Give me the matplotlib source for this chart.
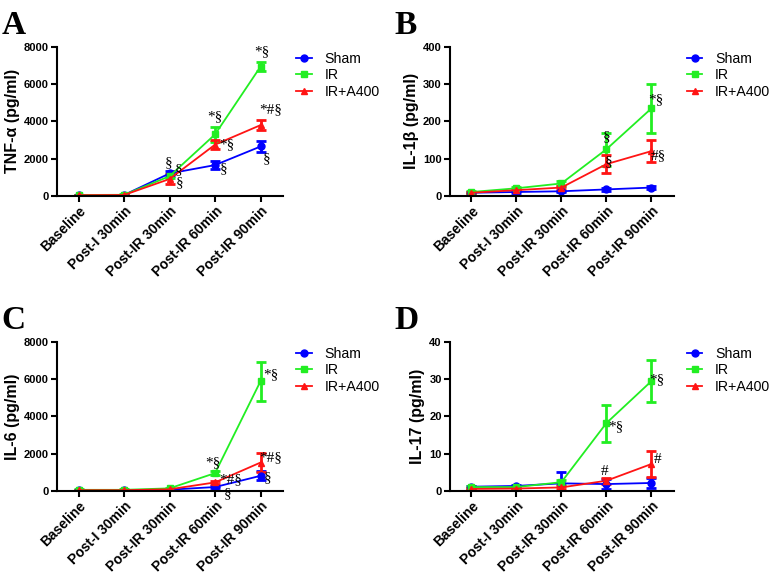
import numpy as np
import matplotlib.pyplot as plt
from matplotlib.lines import Line2D

plt.rcParams['font.family'] = ['Liberation Sans', 'DejaVu Sans']

timepoints = ['Baseline', 'Post-I 30min', 'Post-IR 30min', 'Post-IR 60min', 'Post-IR 90min']
groups = ['Sham', 'IR', 'IR+A400']
colors = {'Sham': '#0000ff', 'IR': '#22ee22', 'IR+A400': '#ff1414'}
markers = {'Sham': 'o', 'IR': 's', 'IR+A400': '^'}

# TNF-alpha
tnf_mean = {'Sham': [30, 40, 1200, 1650, 2650],
            'IR': [40, 50, 1050, 3300, 6950],
            'IR+A400': [30, 40, 900, 2750, 3800]}
tnf_err = {'Sham': [20, 20, 120, 200, 300],
           'IR': [20, 20, 120, 400, 250],
           'IR+A400': [20, 20, 250, 250, 250]}
tnf_marks = [(1.97, 1770, '§'), (2.19, 1400, '§'), (2.21, 700, '§'),
             (3.0, 4240, '*§'), (3.27, 2740, '*§'), (3.18, 1450, '§'),
             (4.02, 7730, '*§'), (4.22, 4620, '*#§'), (4.13, 1990, '§')]

# IL-1beta
il1_mean = {'Sham': [8, 10, 12, 17, 22],
            'IR': [10, 20, 33, 125, 235],
            'IR+A400': [8, 15, 22, 85, 120]}
il1_err = {'Sham': [2, 2, 2, 3, 4],
           'IR': [3, 4, 6, 45, 65],
           'IR+A400': [2, 3, 4, 24, 29]}
il1_marks = [(3.0, 158, '§'), (3.04, 91, '§'), (4.09, 258, '*§'), (4.15, 107, '#§')]

# IL-6
il6_mean = {'Sham': [30, 30, 60, 200, 805],
            'IR': [50, 50, 130, 950, 5900],
            'IR+A400': [30, 30, 80, 450, 1520]}
il6_err = {'Sham': [20, 20, 30, 60, 250],
           'IR': [30, 30, 40, 100, 1050],
           'IR+A400': [20, 20, 30, 80, 500]}
il6_marks = [(2.96, 1500, '*§'), (3.34, 590, '*#§'), (3.27, -160, '§'),
             (4.22, 6230, '*§'), (4.22, 1770, '*#§'), (4.15, 700, '§')]

# IL-17
il17_mean = {'Sham': [1.1, 1.3, 2.0, 1.8, 2.1],
             'IR': [1.0, 1.0, 2.3, 18.2, 29.5],
             'IR+A400': [0.5, 0.6, 0.9, 2.7, 7.2]}
il17_err = {'Sham': [0.3, 0.3, 3.0, 1.3, 1.3],
            'IR': [0.3, 0.3, 0.5, 5.0, 5.6],
            'IR+A400': [0.2, 0.2, 0.3, 0.8, 3.6]}
il17_marks = [(3.21, 17.2, '*§'), (4.13, 29.8, '*§'), (2.95, 5.1, '#'), (4.13, 8.3, '#')]

panels = [
    ('A', 'TNF-α (pg/ml)', tnf_mean, tnf_err, tnf_marks, 8000, 2000, [0.074, 0.659, 0.293, 0.259]),
    ('B', 'IL-1β (pg/ml)', il1_mean, il1_err, il1_marks, 400, 100, [0.583, 0.659, 0.290, 0.259]),
    ('C', 'IL-6 (pg/ml)', il6_mean, il6_err, il6_marks, 8000, 2000, [0.074, 0.145, 0.293, 0.259]),
    ('D', 'IL-17 (pg/ml)', il17_mean, il17_err, il17_marks, 40, 10, [0.583, 0.145, 0.290, 0.259]),
]

fig = plt.figure(figsize=(7.72, 5.74), dpi=100)
x = np.arange(len(timepoints))

for letter, ylabel, means, errs, marks, ymax, ystep, pos in panels:
    ax = fig.add_axes(pos)
    handles = []
    for g in groups:
        ax.errorbar(x, means[g], yerr=errs[g], color=colors[g], marker=markers[g],
                    markersize=5, lw=1.3, elinewidth=2, capsize=3.5, capthick=2)
        handles.append(Line2D([], [], color=colors[g], marker=markers[g],
                              markersize=5, lw=1.3, label=g))
    for xi, yi, s in marks:
        ax.text(xi, yi, s, fontsize=11, family='Liberation Serif',
                ha='center', va='center')
    ax.set_xlim(-0.47, 4.5)
    ax.set_ylim(0, ymax)
    ax.set_yticks(np.arange(0, ymax + 1, ystep))
    ax.set_xticks(x)
    ax.set_xticklabels(timepoints, rotation=45, ha='right', rotation_mode='anchor',
                       fontsize=10, fontweight='bold')
    for lab in ax.get_yticklabels():
        lab.set_fontweight('bold')
        lab.set_fontsize(8)
    ax.set_ylabel(ylabel, fontsize=11.5, fontweight='bold', labelpad=3)
    ax.spines['top'].set_visible(False)
    ax.spines['right'].set_visible(False)
    ax.spines['left'].set_linewidth(1.5)
    ax.spines['bottom'].set_linewidth(1.5)
    ax.tick_params(direction='out', width=1.5, length=4, pad=2)
    ax.legend(handles=handles, loc='upper left', bbox_to_anchor=(1.057, 0.97),
              frameon=False, fontsize=10.2, handlelength=1.1, handletextpad=0.9,
              borderaxespad=0, borderpad=0, labelspacing=0.2)
    fig.text(pos[0] - 0.072, pos[1] + pos[3] + 0.065, letter, fontsize=24,
             fontweight='bold', family='Liberation Serif', ha='left', va='top')

fig.savefig('out.png', dpi=100)
